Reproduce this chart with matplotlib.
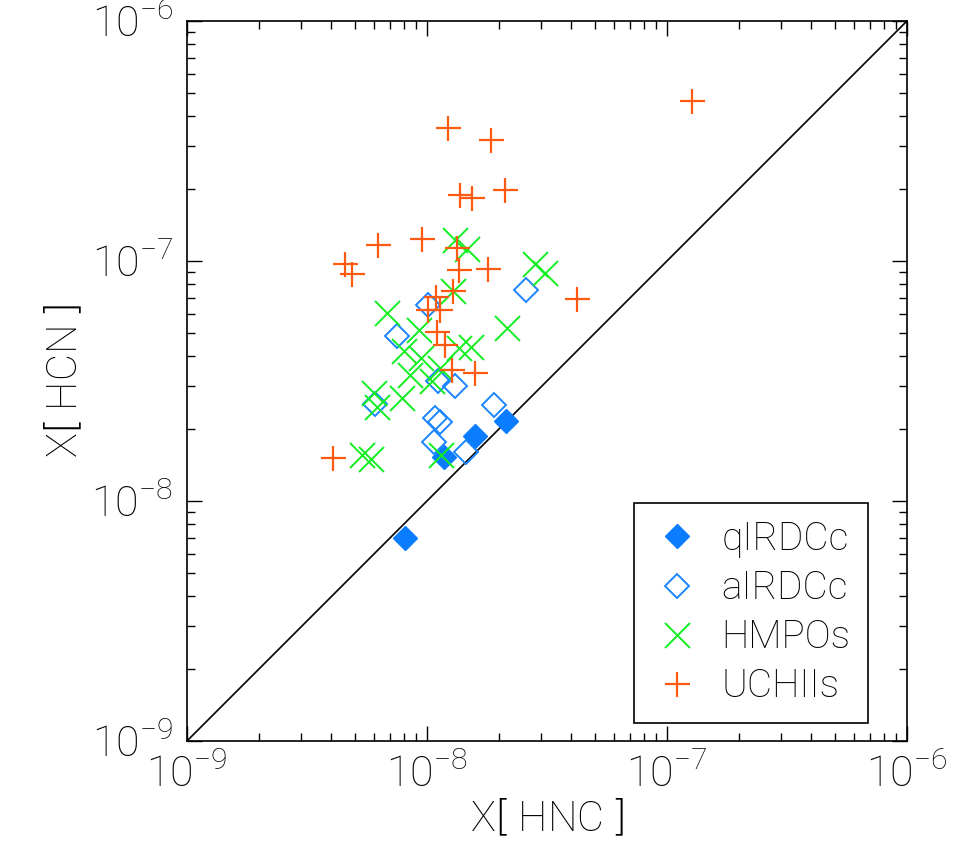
import matplotlib
matplotlib.use("Agg")
import matplotlib.pyplot as plt
import numpy as np

plt.rcParams['font.family'] = ['Roboto', 'DejaVu Sans']
plt.rcParams['font.weight'] = 'light'
plt.rcParams['axes.labelweight'] = 'light'
plt.rcParams['mathtext.default'] = 'regular'

# qIRDCc (filled diamonds)
q_hnc = [8.09e-9, 1.18e-8, 1.58e-8, 2.13e-8]
q_hcn = [7.0e-9, 1.52e-8, 1.87e-8, 2.15e-8]

# aIRDCc (open diamonds)
a_hnc = [1.01e-8, 7.5e-9, 2.58e-8, 6.07e-9, 1.11e-8, 1.31e-8, 1.90e-8, 1.08e-8, 1.13e-8, 1.07e-8, 1.45e-8]
a_hcn = [6.56e-8, 4.87e-8, 7.57e-8, 2.54e-8, 3.16e-8, 3.01e-8, 2.51e-8, 2.22e-8, 2.13e-8, 1.76e-8, 1.60e-8]

# HMPOs
h_hnc = [1.31e-8, 1.47e-8, 2.82e-8, 3.10e-8, 1.28e-8, 6.81e-9, 2.15e-8, 9.26e-9, 1.36e-8, 1.52e-8,
         8.02e-9, 9.44e-9, 8.49e-9, 1.05e-8, 7.87e-9, 6.01e-9, 6.19e-9, 5.36e-9, 5.84e-9, 1.14e-8, 1.13e-8]
h_hcn = [1.22e-7, 1.12e-7, 9.72e-8, 8.91e-8, 7.5e-8, 6.07e-8, 5.26e-8, 5.16e-8, 4.34e-8, 4.38e-8,
         4.22e-8, 3.94e-8, 3.35e-8, 3.16e-8, 2.69e-8, 2.82e-8, 2.46e-8, 1.56e-8, 1.50e-8, 1.56e-8, 3.58e-8]

# UCHIIs
u_hnc = [1.22e-8, 1.85e-8, 1.37e-8, 1.54e-8, 2.11e-8, 6.25e-9, 9.53e-9, 1.33e-8, 4.55e-9, 4.87e-9,
         1.36e-8, 1.79e-8, 1.27e-7, 1.28e-8, 4.22e-8, 1.09e-8, 1.01e-8, 1.13e-8, 1.10e-8, 1.19e-8,
         1.27e-8, 1.58e-8, 4.06e-9]
u_hcn = [3.58e-7, 3.19e-7, 1.88e-7, 1.83e-7, 1.98e-7, 1.17e-7, 1.24e-7, 1.13e-7, 9.72e-8, 8.83e-8,
         9.17e-8, 9.26e-8, 4.64e-7, 7.5e-8, 6.95e-8, 7.08e-8, 6.25e-8, 6.25e-8, 5.06e-8, 4.47e-8,
         3.52e-8, 3.41e-8, 1.51e-8]

lims = [1e-9, 1e-6]
ticks = [1e-9, 1e-8, 1e-7, 1e-6]
tick_labels = [r'$10^{-9}$', r'$10^{-8}$', r'$10^{-7}$', r'$10^{-6}$']

fig = plt.figure(figsize=(9.55, 8.63), dpi=100)
ax = fig.add_axes([0.1958, 0.1414, 0.7539, 0.8343])

ax.plot(lims, lims, color='black', lw=1.2)

blue = '#0a7cff'
ax.plot(q_hnc, q_hcn, 'D', ms=12, color=blue, mec=blue, ls='none', label='qIRDCc')
ax.plot(a_hnc, a_hcn, 'D', ms=12.5, mfc='none', mec='#1a85ff', mew=1.4, ls='none', label='aIRDCc')
ax.plot(h_hnc, h_hcn, 'x', ms=18, color='#10ee20', mew=1.4, ls='none', label='HMPOs')
ax.plot(u_hnc, u_hcn, '+', ms=18, color='#ff5a10', mew=1.6, ls='none', label='UCHIIs')

ax.set_xscale('log')
ax.set_yscale('log')
ax.set_xlim(lims)
ax.set_ylim(lims)
ax.set_xticks(ticks)
ax.set_xticklabels(tick_labels)
ax.set_yticks(ticks)
ax.set_yticklabels(tick_labels)

ax.tick_params(which='both', direction='in', top=True, right=True, width=1)
ax.tick_params(which='major', length=11, labelsize=31, pad=10)
ax.tick_params(which='minor', length=6)
for s in ax.spines.values():
    s.set_linewidth(1.2)

ax.set_xlabel(r'X$\left[\,HNC\,\right]$', fontsize=30, labelpad=2)
ax.set_ylabel(r'X$\left[\,HCN\,\right]$', fontsize=30, labelpad=4)

leg = ax.legend(loc='lower right', bbox_to_anchor=(0.946, 0.025), borderaxespad=0,
                fontsize=28, fancybox=False, edgecolor='black', framealpha=1,
                handletextpad=0.5, handlelength=1.3, borderpad=0.45, labelspacing=0.3)
leg.get_frame().set_linewidth(1.2)

fig.savefig('out.png', dpi=100)
